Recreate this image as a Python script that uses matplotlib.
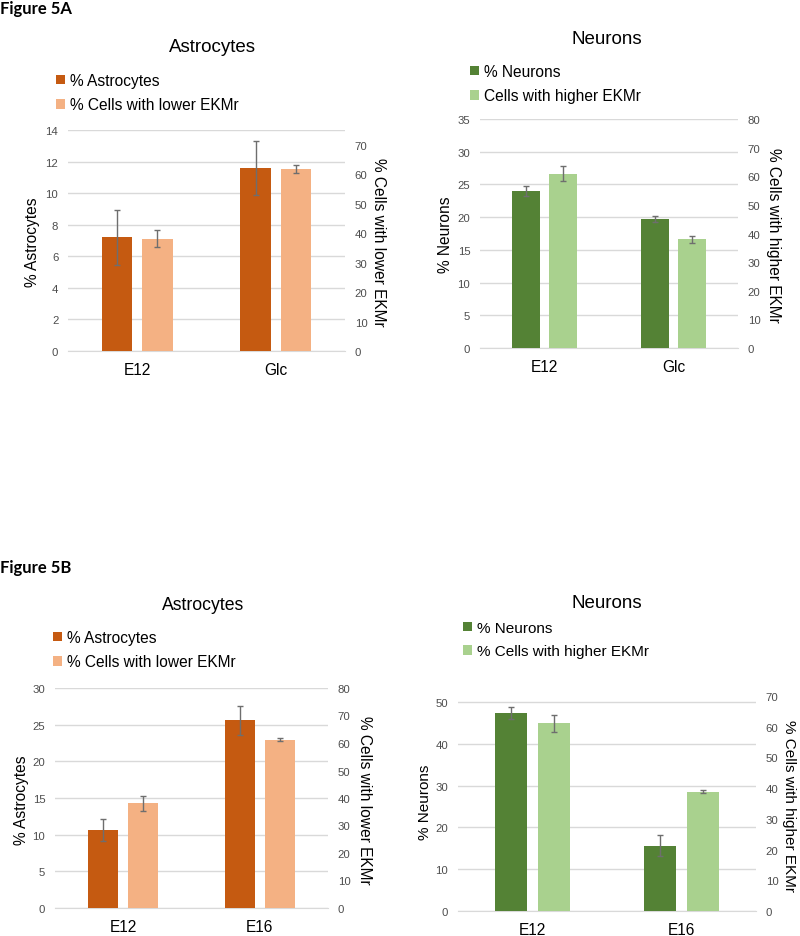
import matplotlib
matplotlib.use("Agg")
import matplotlib.pyplot as plt
import numpy as np

plt.rcParams['font.family'] = ['Liberation Sans', 'DejaVu Sans']

W, H = 800, 937

# Figure 5A
a_cats = ["E12", "Glc"]
a_astro = [7.2, 11.6]
a_astro_err = [1.75, 1.73]
a_lower = [38.1, 61.8]
a_lower_err = [2.9, 1.3]
a_neur = [24.0, 19.7]
a_neur_err = [0.75, 0.45]
a_higher = [60.9, 38.0]
a_higher_err = [2.7, 1.2]

# Figure 5B
b_cats = ["E12", "E16"]
b_astro = [10.6, 25.6]
b_astro_err = [1.5, 2.0]
b_lower = [38.1, 61.2]
b_lower_err = [2.7, 0.45]
b_neur = [47.3, 15.6]
b_neur_err = [1.4, 2.5]
b_higher = [61.1, 38.8]
b_higher_err = [2.8, 0.5]

ORANGE = "#C55A11"
ORANGE_L = "#F4B183"
GREEN = "#548235"
GREEN_L = "#A9D18E"
GRID = "#D9D9D9"
TICK = "#4D4D4D"
ERR = "#6E6E6E"


def rect(x0, y0, x1, y1):
    return [x0 / W, 1 - y1 / H, (x1 - x0) / W, (y1 - y0) / H]


def fx(x):
    return x / W


def fy(y):
    return 1 - y / H


def panel(box, cats, v1, e1, v2, e2, c1, c2, lab1, lab2, ylab1, ylab2,
          ylim1, yt1, ylim2, yt2, title, title_xy, leg_xy, ylab1_xy, ylab2_xy,
          tick_fs=8.2, xfs=11.2, title_fs=13.5, leg_fs=11.2):
    ax = fig.add_axes(rect(*box))
    ax2 = ax.twinx()
    x = np.arange(len(cats))
    off, w = 0.145, 0.22
    b1 = ax.bar(x - off, v1, w, color=c1, zorder=3, label=lab1)
    ax.errorbar(x - off, v1, yerr=e1, fmt='none', ecolor=ERR, elinewidth=1,
                capsize=2.5, capthick=1, zorder=4)
    b2 = ax2.bar(x + off, v2, w, color=c2, zorder=3, label=lab2)
    ax2.errorbar(x + off, v2, yerr=e2, fmt='none', ecolor=ERR, elinewidth=1,
                 capsize=2.5, capthick=1, zorder=4)
    ax.set_xlim(-0.5, len(cats) - 0.5)
    ax.set_ylim(*ylim1)
    ax.set_yticks(yt1)
    ax2.set_ylim(*ylim2)
    ax2.set_yticks(yt2)
    ax.yaxis.grid(True, color=GRID, linewidth=1, zorder=0)
    ax.set_axisbelow(True)
    for a in (ax, ax2):
        for s in a.spines.values():
            s.set_visible(False)
        a.tick_params(axis='y', length=0, labelsize=tick_fs, labelcolor=TICK, pad=7)
    ax.spines['bottom'].set_visible(True)
    ax.spines['bottom'].set_color(GRID)
    ax.set_xticks(x)
    ax.set_xticklabels(cats)
    ax.tick_params(axis='x', length=0, labelsize=xfs, pad=8)
    fig.text(fx(title_xy[0]), fy(title_xy[1]), title, fontsize=title_fs,
             ha='center', va='center')
    fig.text(fx(ylab1_xy[0]), fy(ylab1_xy[1]), ylab1, fontsize=leg_fs,
             rotation=90, ha='center', va='center')
    fig.text(fx(ylab2_xy[0]), fy(ylab2_xy[1]), ylab2, fontsize=leg_fs,
             rotation=270, ha='center', va='center')
    ax.legend(handles=[b1, b2], loc='upper left',
              bbox_to_anchor=(fx(leg_xy[0]), fy(leg_xy[1])),
              bbox_transform=fig.transFigure, frameon=False, fontsize=leg_fs,
              handlelength=0.6, handleheight=0.6, handletextpad=0.3,
              labelspacing=0.6, borderpad=0, borderaxespad=0)
    return ax


fig = plt.figure(figsize=(W / 100, H / 100), dpi=100)

fig.text(fx(0), fy(9), "Figure 5A", fontsize=12, fontweight='bold',
         family=['Lato', 'DejaVu Sans'], ha='left', va='center')
fig.text(fx(0), fy(568), "Figure 5B", fontsize=12, fontweight='bold',
         family=['Lato', 'DejaVu Sans'], ha='left', va='center')

panel((68, 131, 345, 352), a_cats, a_astro, a_astro_err, a_lower, a_lower_err,
      ORANGE, ORANGE_L, "% Astrocytes", "% Cells with lower EKMr",
      "% Astrocytes", "% Cells with lower EKMr",
      (0, 14), np.arange(0, 15, 2), (0, 75), np.arange(0, 71, 10),
      "Astrocytes", (212, 47), (56, 74), (33, 242), (378, 242))

panel((480, 120, 738, 349), a_cats, a_neur, a_neur_err, a_higher, a_higher_err,
      GREEN, GREEN_L, "% Neurons", "Cells with higher EKMr",
      "% Neurons", "% Cells with higher EKMr",
      (0, 35), np.arange(0, 36, 5), (0, 80), np.arange(0, 81, 10),
      "Neurons", (607, 40), (470, 65), (445, 235), (774, 235))

panel((55, 689, 328, 909), b_cats, b_astro, b_astro_err, b_lower, b_lower_err,
      ORANGE, ORANGE_L, "% Astrocytes", "% Cells with lower EKMr",
      "% Astrocytes", "% Cells with lower EKMr",
      (0, 30), np.arange(0, 31, 5), (0, 80), np.arange(0, 81, 10),
      "Astrocytes", (203, 606), (53, 631), (22, 800), (364, 800),
      title_fs=12.7)

panel((458, 697, 756, 912), b_cats, b_neur, b_neur_err, b_higher, b_higher_err,
      GREEN, GREEN_L, "% Neurons", "% Cells with higher EKMr",
      "% Neurons", "% Cells with higher EKMr",
      (0, 51.4), np.arange(0, 51, 10), (0, 70), np.arange(0, 71, 10),
      "Neurons", (607, 603), (463, 622), (425, 802), (789, 806),
      leg_fs=11)

fig.savefig("out.png", dpi=100, facecolor='white')
